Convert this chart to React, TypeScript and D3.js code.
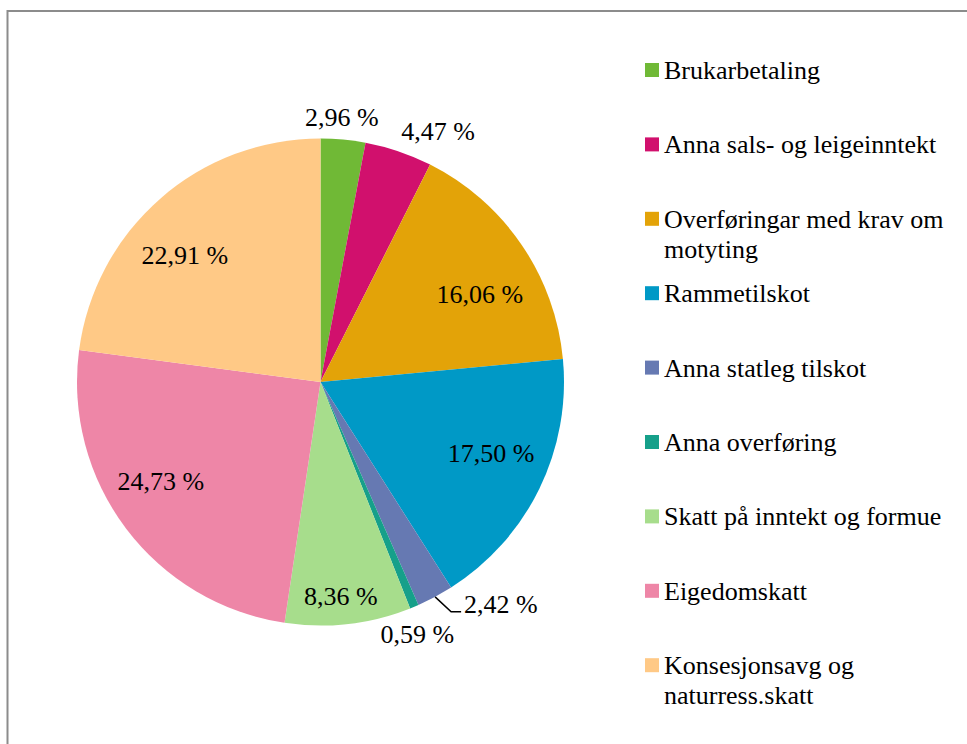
import React, { useEffect, useRef } from "react";
import * as d3 from "d3";

const categories = [
  "Brukarbetaling",
  "Anna sals- og leigeinntekt",
  "Overføringar med krav om motyting",
  "Rammetilskot",
  "Anna statleg tilskot",
  "Anna overføring",
  "Skatt på inntekt og formue",
  "Eigedomskatt",
  "Konsesjonsavg og naturress.skatt",
];
const values = [2.96, 4.47, 16.06, 17.5, 2.42, 0.59, 8.36, 24.73, 22.91];
const valueLabels = ["2,96 %", "4,47 %", "16,06 %", "17,50 %", "2,42 %", "0,59 %", "8,36 %", "24,73 %", "22,91 %"];
const legendLines = [
  ["Brukarbetaling"],
  ["Anna sals- og leigeinntekt"],
  ["Overføringar med krav om", "motyting"],
  ["Rammetilskot"],
  ["Anna statleg tilskot"],
  ["Anna overføring"],
  ["Skatt på inntekt og formue"],
  ["Eigedomskatt"],
  ["Konsesjonsavg og", "naturress.skatt"],
];
const colors = ["#70B936", "#D1106D", "#E3A308", "#0099C6", "#6679B2", "#16A08A", "#A7DD8C", "#EE86A7", "#FFC986"];

// label placement (style): radius factor and angle nudge in degrees
const labelRadius = [1.092, 1.138, 0.748, 0.759, 0, 1.08, 0.883, 0.771, 0.764];
const labelNudge = [-0.7, 6.4, 5.4, -3.4, 0, 0, 1.1, 5.2, -5.6];

const W = 967;
const H = 744;
const cx = 320.5;
const cy = 382;
const R = 243.5;

export default function App() {
  const ref = useRef<SVGSVGElement | null>(null);

  useEffect(() => {
    const svg = d3.select(ref.current);
    svg.selectAll("*").remove();

    svg.append("rect").attr("x", 7.5).attr("y", 11).attr("width", 1100).attr("height", 900)
      .attr("fill", "#fff").attr("stroke", "#8c8c8c").attr("stroke-width", 2);

    const pie = d3.pie<number>().sort(null).value((d) => d)(values);
    const arc = d3.arc<d3.PieArcDatum<number>>().innerRadius(0).outerRadius(R);
    const polar = (angle: number, r: number) => [cx + r * Math.sin(angle), cy - r * Math.cos(angle)];

    svg.append("g").attr("transform", `translate(${cx},${cy})`)
      .selectAll("path").data(pie).join("path")
      .attr("d", (d) => arc(d) || "")
      .attr("fill", (_d, i) => colors[i]);

    const addText = (x: number, y: number, s: string, anchor = "start", dy = "0") =>
      svg.append("text").attr("x", x).attr("y", y).attr("dy", dy)
        .attr("text-anchor", anchor)
        .attr("font-family", "Liberation Serif")
        .style("font-family", "'Liberation Serif', serif")
        .style("font-size", "26px")
        .attr("fill", "#000")
        .text(s);

    pie.forEach((p, i) => {
      const mid = (p.startAngle + p.endAngle) / 2;
      if (i === 4) {
        const [x0, y0] = polar(mid, R);
        const ex = x0 + 16;
        const ey = y0 + 15;
        svg.append("path").attr("d", `M${x0},${y0}L${ex},${ey}L${ex + 10},${ey}`)
          .attr("fill", "none").attr("stroke", "#000").attr("stroke-width", 1.5);
        addText(ex + 13, ey + 1, valueLabels[i]);
      } else if (i === 5) {
        const [x0, y0] = polar(mid, R);
        addText(x0 + 3, y0 + 36, valueLabels[i], "middle");
      } else {
        const [x, y] = polar(mid + (labelNudge[i] * Math.PI) / 180, R * labelRadius[i]);
        addText(x, y, valueLabels[i], "middle", "0.34em");
      }
    });

    const legendX = 645;
    const legendY0 = 79;
    const legendStep = 74.4;
    categories.forEach((_c, i) => {
      const by = legendY0 + i * legendStep;
      svg.append("rect").attr("x", legendX).attr("y", by - 16).attr("width", 14).attr("height", 14)
        .attr("fill", colors[i]);
      legendLines[i].forEach((ln, j) => addText(legendX + 19, by + j * 30, ln));
    });
  }, []);

  return (
    <svg
      ref={ref}
      width={W}
      height={H}
      style={{ position: "absolute", left: 0, top: 0, display: "block", background: "#fff" }}
    />
  );
}
